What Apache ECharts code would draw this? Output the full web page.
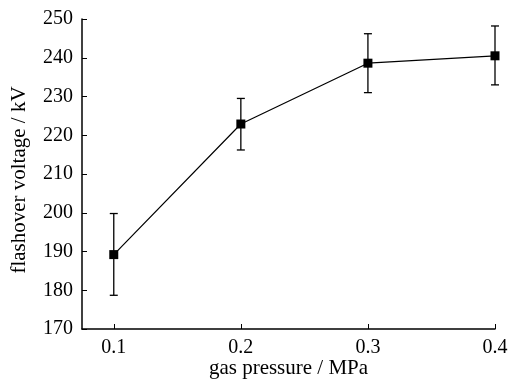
<!DOCTYPE html>
<html>
<head>
<meta charset="utf-8">
<script src="https://cdn.jsdelivr.net/npm/echarts@6/dist/echarts.min.js"></script>
<style>
  html, body { margin: 0; padding: 0; background: #fff; }
  #myChart { width: 517px; height: 382px; }
</style>
</head>
<body>
<div id="myChart"></div>
<script>
// gas pressure (MPa)
var pressure = [0.1, 0.2, 0.3, 0.4];
// mean flashover voltage (kV)
var voltage = [189.2, 222.9, 238.6, 240.5];
// error bar ends
var errLow = [178.7, 216.2, 231.0, 233.0];
var errHigh = [199.8, 229.5, 246.2, 248.2];
var xTicks = [0.1, 0.2, 0.3, 0.4];

var font = '"Liberation Serif", "Times New Roman", serif';

var lineData = pressure.map(function (p, i) { return [p, voltage[i]]; });
var errData = pressure.map(function (p, i) { return [p, errLow[i], errHigh[i]]; });

var chart = echarts.init(document.getElementById('myChart'));
var options = {
  animation: false,
  grid: { left: 82, right: 22, top: 19, bottom: 53, outerBoundsMode: 'none' },
  xAxis: {
    type: 'value',
    min: 0.075,
    max: 0.4,
    name: 'gas pressure / MPa',
    nameLocation: 'middle',
    nameGap: 29,
    nameMoveOverlap: false,
    nameTextStyle: { fontFamily: font, fontSize: 21, color: '#000' },
    axisLine: { lineStyle: { color: '#000', width: 1.5 } },
    axisTick: { inside: true, length: 5, customValues: xTicks, lineStyle: { color: '#000' } },
    axisLabel: {
      customValues: xTicks,
      fontFamily: font, fontSize: 20, color: '#000', margin: 9,
      formatter: function (v) { return v.toFixed(1); }
    },
    splitLine: { show: false }
  },
  yAxis: {
    type: 'value',
    min: 170,
    max: 250,
    interval: 10,
    name: 'flashover voltage / kV',
    nameLocation: 'middle',
    nameGap: 52,
    nameMoveOverlap: false,
    nameTextStyle: { fontFamily: font, fontSize: 21, color: '#000', padding: [0, 12, 0, 0] },
    axisLine: { show: true, lineStyle: { color: '#000', width: 1.5 } },
    axisTick: { show: true, inside: true, length: 5, lineStyle: { color: '#000' } },
    axisLabel: { fontFamily: font, fontSize: 20, color: '#000', margin: 9 },
    splitLine: { show: false }
  },
  series: [
    {
      type: 'custom',
      data: errData,
      z: 1,
      renderItem: function (params, api) {
        var x = api.value(0);
        var lo = api.coord([x, api.value(1)]);
        var hi = api.coord([x, api.value(2)]);
        var cap = 4;
        var style = { stroke: '#000', lineWidth: 1.3 };
        return {
          type: 'group',
          children: [
            { type: 'line', shape: { x1: lo[0], y1: lo[1], x2: hi[0], y2: hi[1] }, style: style },
            { type: 'line', shape: { x1: hi[0] - cap, y1: hi[1], x2: hi[0] + cap, y2: hi[1] }, style: style },
            { type: 'line', shape: { x1: lo[0] - cap, y1: lo[1], x2: lo[0] + cap, y2: lo[1] }, style: style }
          ]
        };
      }
    },
    {
      type: 'line',
      data: lineData,
      z: 2,
      symbol: 'rect',
      symbolSize: 9,
      lineStyle: { color: '#000', width: 1.2 },
      itemStyle: { color: '#000' }
    }
  ]
};
chart.setOption(options);
</script>
</body>
</html>
